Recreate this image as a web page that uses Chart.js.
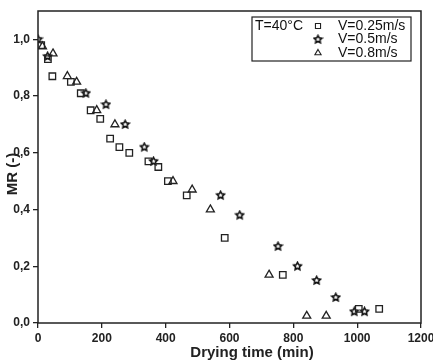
<!DOCTYPE html>
<html>
<head>
<meta charset="utf-8">
<script src="https://cdn.jsdelivr.net/npm/chart.js@4.4.1/dist/chart.umd.min.js"></script>
<style>
  body { margin: 0; background: #fff; }
</style>
</head>
<body>
<canvas id="mrChart" width="433" height="361"></canvas>
<script>
// drying time (min) and moisture ratio for each air velocity, T = 40°C
const time025 = [10, 31, 45, 103, 134, 165, 195, 226, 255, 286, 346, 377, 407, 466, 585, 767, 1005, 1069];
const mr025   = [0.98, 0.93, 0.87, 0.85, 0.81, 0.75, 0.72, 0.65, 0.62, 0.60, 0.57, 0.55, 0.50, 0.45, 0.30, 0.17, 0.05, 0.05];

const time05 = [0, 30, 150, 213, 273, 333, 362, 572, 632, 752, 813, 873, 933, 991, 1023];
const mr05   = [1.0, 0.94, 0.81, 0.77, 0.70, 0.62, 0.57, 0.45, 0.38, 0.27, 0.20, 0.15, 0.09, 0.04, 0.04];

const time08 = [14, 47, 92, 121, 184, 241, 423, 483, 540, 724, 842, 903];
const mr08   = [0.975, 0.95, 0.87, 0.85, 0.75, 0.70, 0.50, 0.47, 0.40, 0.17, 0.025, 0.025];

const seriesLabels = ["V=0.25m/s", "V=0.5m/s", "V=0.8m/s"];
const xTicks = [0, 200, 400, 600, 800, 1000, 1200];
const yTicks = [0, 0.2, 0.4, 0.6, 0.8, 1.0];

const ink = "#222";

function makeStar(r) {
  const c = document.createElement("canvas");
  const s = Math.ceil(r * 2 + 3);
  c.width = c.height = s;
  const g = c.getContext("2d");
  g.beginPath();
  for (let i = 0; i < 10; i++) {
    const a = -Math.PI / 2 + i * Math.PI / 5;
    const rr = i % 2 ? r * 0.5 : r;
    g.lineTo(s / 2 + rr * Math.cos(a), s / 2 + rr * Math.sin(a));
  }
  g.closePath();
  g.lineWidth = 1.6;
  g.strokeStyle = "#111";
  g.stroke();
  return c;
}
const star = makeStar(4);

function toPoints(xs, ys) {
  return xs.map((x, i) => ({ x: x, y: ys[i] }));
}

const styles = [
  { pointStyle: "rect", pointRadius: 4.6 },
  { pointStyle: star, pointRadius: 5 },
  { pointStyle: "triangle", pointRadius: 4.6 }
];

const frame = {
  id: "frame",
  afterDraw(chart) {
    const { ctx, chartArea: a } = chart;
    ctx.save();
    ctx.strokeStyle = ink;
    ctx.lineWidth = 1.5;
    ctx.strokeRect(a.left, a.top, a.right - a.left, a.bottom - a.top);

    // axis titles
    ctx.fillStyle = ink;
    ctx.font = "bold 15px 'Liberation Sans', Arial, sans-serif";
    ctx.textAlign = "center";
    ctx.textBaseline = "middle";
    ctx.fillText("Drying time (min)", 252, 353);
    ctx.translate(13, 174);
    ctx.rotate(-Math.PI / 2);
    ctx.fillText("MR (-)", 0, 0);
    ctx.restore();

    // legend box
    ctx.save();
    const bx = a.right - 169, by = a.top + 6, bw = 159, bh = 44;
    ctx.strokeStyle = ink;
    ctx.lineWidth = 1.2;
    ctx.strokeRect(bx, by, bw, bh);
    ctx.font = "14px 'Liberation Sans', Arial, sans-serif";
    ctx.textBaseline = "middle";
    ctx.textAlign = "left";
    ctx.fillStyle = "#111";
    ctx.fillText("T=40°C", bx + 3, by + 9);
    chart.data.datasets.forEach((ds, i) => {
      const y = by + 9 + i * 13.5;
      ctx.strokeStyle = ink;
      ctx.fillStyle = "rgba(0,0,0,0)";
      ctx.lineWidth = 1.1;
      Chart.helpers.drawPoint(ctx, {
        pointStyle: ds.pointStyle,
        radius: ds.pointStyle === star ? 4 : 3.6,
        rotation: 0,
        borderWidth: 1.1
      }, bx + 66, y);
      ctx.fillStyle = "#111";
      ctx.fillText(ds.label, bx + 86, y);
    });
    ctx.restore();
  }
};

new Chart(document.getElementById("mrChart"), {
  type: "scatter",
  data: {
    datasets: [
      { label: seriesLabels[0], data: toPoints(time025, mr025) },
      { label: seriesLabels[1], data: toPoints(time05, mr05) },
      { label: seriesLabels[2], data: toPoints(time08, mr08) }
    ].map((ds, i) => Object.assign(ds, styles[i], {
      borderColor: ink,
      backgroundColor: "rgba(0,0,0,0)",
      borderWidth: 1.3,
      pointHoverRadius: styles[i].pointRadius
    }))
  },
  options: {
    responsive: false,
    animation: false,
    layout: { padding: { left: 0, right: 12, top: 11, bottom: 0 } },
    plugins: {
      legend: { display: false },
      tooltip: { enabled: false }
    },
    scales: {
      x: {
        type: "linear",
        min: 0,
        max: 1200,
        afterFit: s => { s.height = 38; s.paddingLeft = 0; s.paddingRight = 0; },
        afterBuildTicks: s => { s.ticks = xTicks.map(v => ({ value: v })); },
        border: { display: false },
        grid: { drawOnChartArea: false, drawTicks: true, tickLength: 5, tickColor: ink, lineWidth: 1.3 },
        ticks: {
          color: ink,
          padding: 3,
          maxRotation: 0,
          callback: v => String(v),
          font: { family: "'Liberation Sans', Arial, sans-serif", size: 12, weight: "bold" }
        }
      },
      y: {
        type: "linear",
        min: 0,
        max: 1.1,
        afterFit: s => { s.width = 38; s.paddingTop = 0; s.paddingBottom = 0; },
        afterBuildTicks: s => { s.ticks = yTicks.map(v => ({ value: v })); },
        border: { display: false },
        grid: { drawOnChartArea: false, drawTicks: true, tickLength: 5, tickColor: ink, lineWidth: 1.3 },
        ticks: {
          color: ink,
          padding: 3,
          callback: v => v.toFixed(1).replace(".", ","),
          font: { family: "'Liberation Sans', Arial, sans-serif", size: 12, weight: "bold" }
        }
      }
    }
  },
  plugins: [frame]
});
</script>
</body>
</html>
